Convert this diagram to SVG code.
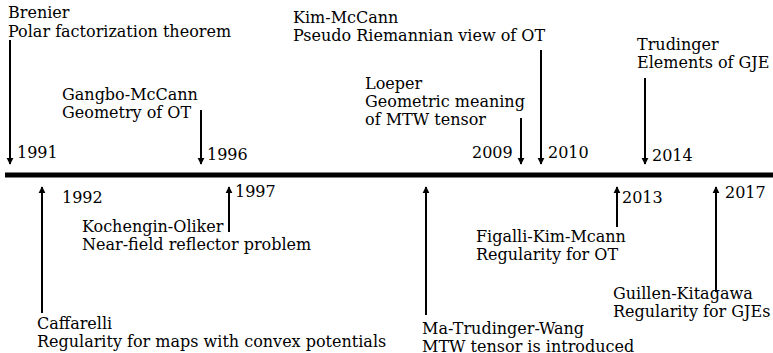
<svg xmlns="http://www.w3.org/2000/svg" width="773" height="353" viewBox="0 0 773 353">
<style>
text{font-family:'DejaVu Serif','Liberation Serif',serif;font-size:16px;fill:#000}
.ar{stroke:#000;stroke-width:2;fill:none;marker-end:url(#ah)}
</style>
<defs>
<marker id="ah" viewBox="0 0 10 10" refX="9" refY="5" markerWidth="3.5" markerHeight="5" orient="auto" markerUnits="strokeWidth">
<path d="M0,0 L10,5 L0,10 z" fill="#000"/>
</marker>
</defs>
<rect width="773" height="353" fill="#fff"/>
<line id="timeline" x1="5" y1="175" x2="773" y2="175" stroke="#000" stroke-width="5"/>
<g id="connectors">
<line class="ar" x1="10" y1="40" x2="10" y2="164"/>
<line class="ar" x1="201" y1="110" x2="201" y2="164"/>
<line class="ar" x1="521" y1="118" x2="521" y2="164"/>
<line class="ar" x1="541" y1="50" x2="541" y2="164"/>
<line class="ar" x1="645" y1="78" x2="645" y2="164"/>
<line class="ar" x1="42" y1="313" x2="42" y2="187"/>
<line class="ar" x1="229" y1="232" x2="229" y2="187"/>
<line class="ar" x1="426" y1="315" x2="426" y2="187"/>
<line class="ar" x1="617" y1="227" x2="617" y2="187"/>
<line class="ar" x1="716" y1="292" x2="716" y2="187"/>
</g>
<g id="brenier"><text x="8" y="18">Brenier</text><text x="8" y="37">Polar factorization theorem</text><text x="17" y="158">1991</text></g>
<g id="gangbo"><text x="62" y="100">Gangbo-McCann</text><text x="62" y="118">Geometry of OT</text><text x="207" y="160">1996</text></g>
<g id="kim"><text x="293" y="23">Kim-McCann</text><text x="293" y="41">Pseudo Riemannian view of OT</text><text x="548" y="158">2010</text></g>
<g id="loeper"><text x="365" y="89">Loeper</text><text x="365" y="107">Geometric meaning</text><text x="365" y="125">of MTW tensor</text><text x="472" y="158">2009</text></g>
<g id="trudinger"><text x="637" y="50">Trudinger</text><text x="637" y="68">Elements of GJE</text><text x="652" y="161">2014</text></g>
<g id="caffarelli"><text x="62" y="203">1992</text><text x="37" y="329">Caffarelli</text><text x="37" y="347">Regularity for maps with convex potentials</text></g>
<g id="kochengin"><text x="235" y="197">1997</text><text x="82" y="232">Kochengin-Oliker</text><text x="82" y="250">Near-field reflector problem</text></g>
<g id="mtw"><text x="422" y="334">Ma-Trudinger-Wang</text><text x="422" y="352">MTW tensor is introduced</text></g>
<g id="figalli"><text x="622" y="203">2013</text><text x="476" y="242">Figalli-Kim-Mcann</text><text x="476" y="260">Regularity for OT</text></g>
<g id="guillen"><text x="725" y="198">2017</text><text x="613" y="299">Guillen-Kitagawa</text><text x="613" y="317">Regularity for GJEs</text></g>
</svg>
